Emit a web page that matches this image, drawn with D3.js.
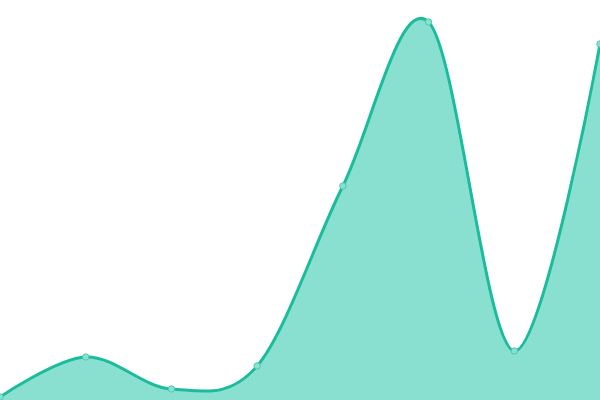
<!DOCTYPE html>
<html>
<head>
<meta charset="utf-8">
<script src="https://cdn.jsdelivr.net/npm/d3@7"></script>
<style>
  body { margin: 0; background: #fff; }
</style>
</head>
<body>
<div id="chart"></div>
<script>
var svgWidth = 600;
var svgHeight = 400;

// data
var categories = ["1", "2", "3", "4", "5", "6", "7", "8"];
var values = [3, 43, 11, 34, 214, 378, 49, 356];

var svg = d3.select("#chart")
            .append("svg")
            .attr("width", svgWidth)
            .attr("height", svgHeight);

var xScale = d3.scalePoint()
               .domain(categories)
               .range([0, svgWidth]);
var yScale = d3.scaleLinear()
               .domain([0, 400])
               .range([svgHeight, 0]);

var data = categories.map(function(c, i) { return {cat: c, value: values[i]}; });

var area = d3.area()
             .x(d => xScale(d.cat))
             .y0(yScale(0))
             .y1(d => yScale(d.value))
             .curve(d3.curveCardinal);

var line = d3.line()
             .x(d => xScale(d.cat))
             .y(d => yScale(d.value))
             .curve(d3.curveCardinal);

svg.append("path")
   .datum(data)
   .attr("d", area)
   .attr("fill", "#8ae0d0");

svg.append("path")
   .datum(data)
   .attr("d", line)
   .attr("fill", "none")
   .attr("stroke", "#1abc9c")
   .attr("stroke-width", 3);

svg.selectAll("circle.pt")
   .data(data)
   .enter()
   .append("circle")
   .attr("class", "pt")
   .attr("cx", d => xScale(d.cat))
   .attr("cy", d => yScale(d.value))
   .attr("r", 3.2)
   .attr("fill", "#8ae0d0")
   .attr("stroke", "#4ccbae")
   .attr("stroke-width", 1);
</script>
</body>
</html>
